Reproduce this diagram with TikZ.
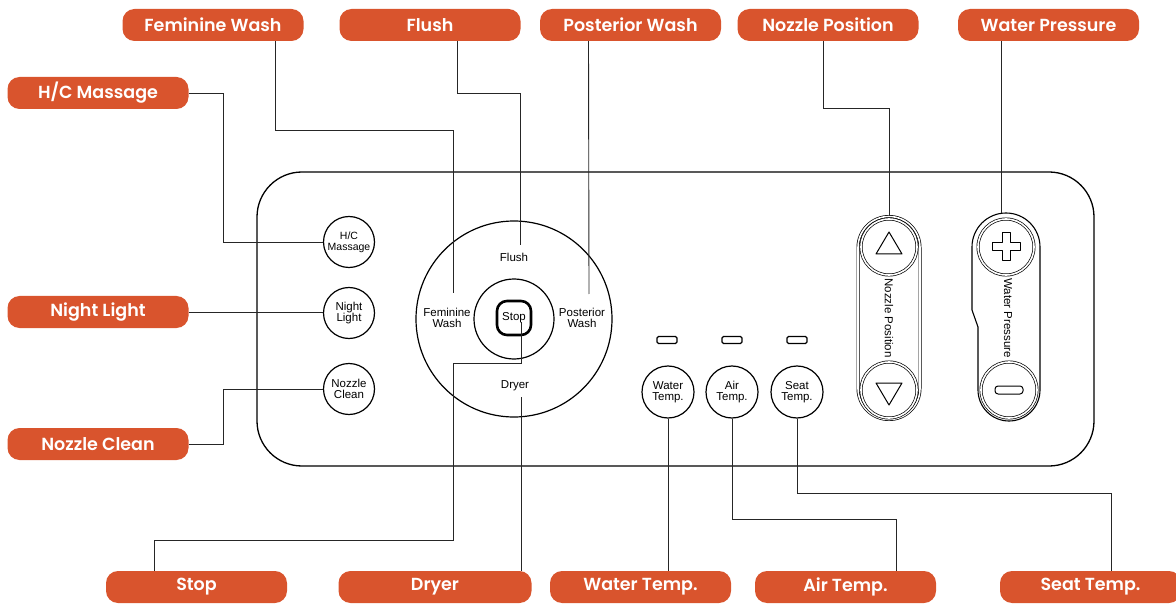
\documentclass[tikz,border=0pt]{standalone}
\usepackage{fontspec}
\setmainfont{Liberation Sans}
\newfontfamily\labelfont{Poppins}[BoldFont={Poppins SemiBold}]
\definecolor{tagorange}{RGB}{217,84,45}

\begin{document}
\begin{tikzpicture}[x=1pt, y=-1pt,
	callout/.style={rounded corners=12pt, fill=tagorange, text=white,
		minimum width=181pt, minimum height=32pt, inner sep=0pt,
		font=\labelfont\bfseries\fontsize{17.5}{17.5}\selectfont},
	lead/.style={line width=0.9pt, black!85},
	button/.style={circle, draw=black, fill=white, line width=1.2pt,
		minimum size=51pt, inner sep=0pt, align=center,
		font=\fontsize{11.5}{11.5}\selectfont},
	ring/.style={circle, draw=black, line width=0.7pt, double=white,
		double distance=1.6pt, minimum size=56pt, inner sep=0pt},
	led/.style={draw=black, rounded corners=1.5pt, line width=1.1pt,
		minimum width=20pt, minimum height=7pt, inner sep=0pt},
	dialtxt/.style={align=center, inner sep=0pt,
		font=\fontsize{11.5}{11.5}\selectfont},
	sign/.style={line width=1pt, line join=round}]

	\useasboundingbox (0,0) rectangle (1176,604);

	%% pannello
	\draw[line width=1.3pt, rounded corners=45pt] (257,172) rectangle (1094,466);

	%% tasti a sinistra
	\node[button, font=\fontsize{10.5}{11}\selectfont] (hcBtn) at (349,242) {H/C\\Massage};
	\node[button] (nightBtn) at (349,313) {Night\\Light};
	\node[button] (cleanBtn) at (349,389) {Nozzle\\Clean};

	%% manopola centrale
	\node[circle, draw, line width=1.2pt, minimum size=196pt] (dialOut) at (514,319) {};
	\node[circle, draw, line width=1.2pt, minimum size=80pt] (dialIn) at (514,319) {};
	\node[draw, rounded corners=10pt, line width=2.6pt, minimum size=34pt,
		inner sep=0pt, font=\fontsize{11.5}{11.5}\selectfont] (stopBtn) at (514,318) {Stop};
	\node[dialtxt] (flushTxt) at (514,257) {Flush};
	\node[dialtxt] (femTxt) at (447,318) {Feminine\\Wash};
	\node[dialtxt] (postTxt) at (582,318) {Posterior\\Wash};
	\node[dialtxt] (dryerTxt) at (515,386) {Dryer};
	\coordinate (femTip) at (453,293);
	\coordinate (flushTip) at (520,245);
	\coordinate (postTip) at (589,294);
	\coordinate (stopTip) at (521,322);
	\coordinate (dryerTip) at (521,397);

	%% spie e tasti temperatura
	\node[led] (ledW) at (667,340) {};
	\node[led] (ledA) at (732,340) {};
	\node[led] (ledS) at (797,340) {};
	\node[button, minimum size=52pt] (waterBtn) at (668,392) {Water\\Temp.};
	\node[button, minimum size=52pt] (airBtn) at (732,392) {Air\\Temp.};
	\node[button, minimum size=52pt] (seatBtn) at (797,392) {Seat\\Temp.};

	%% posizione ugello
	\node[draw, line width=0.7pt, double=white, double distance=1.6pt,
		rounded corners=31pt, minimum width=62pt, minimum height=203pt] (nozPill) at (889,318) {};
	\node[dialtxt, rotate=-90] (nozTxt) at (889,318) {Nozzle Position};
	\node[ring] (nozUp) at (889,247) {};
	\node[ring] (nozDown) at (889,390) {};
	\draw[sign] (nozUp) ++(-13,7) -- ++(26,0) -- ++(-13,-22) -- cycle;
	\draw[sign] (nozDown) ++(-13,-7) -- ++(26,0) -- ++(-13,22) -- cycle;

	%% pressione acqua: sagoma con lo scalino a sinistra
	\draw[line width=1.1pt] (972,310) -- (972,247) arc (180:360:34)
		-- (1040,390) arc (0:180:31) -- (978,327) -- cycle;
	\node[dialtxt, rotate=-90] (presTxt) at (1008,318) {Water Pressure};
	\node[ring] (presUp) at (1006,247) {};
	\node[ring] (presDown) at (1009,390) {};
	\draw[sign] (presUp) ++(-4,-14) -- ++(8,0) -- ++(0,10) -- ++(10,0)
		-- ++(0,8) -- ++(-10,0) -- ++(0,10) -- ++(-8,0) -- ++(0,-10)
		-- ++(-10,0) -- ++(0,-8) -- ++(10,0) -- cycle;
	\draw[sign, rounded corners=3pt] (presDown) ++(-14,-4) rectangle ++(28,8);
	\coordinate (presTop) at (1001.5,213.5);

	%% etichette
	\node[callout] (femLbl) at (213,25) {Feminine Wash};
	\node[callout] (flushLbl) at (430,25) {Flush};
	\node[callout] (postLbl) at (630.5,25) {Posterior Wash};
	\node[callout] (nozLbl) at (828,25) {Nozzle Position};
	\node[callout] (presLbl) at (1048.5,25) {Water Pressure};
	\node[callout] (hcLbl) at (98,93) {H/C Massage};
	\node[callout] (nightLbl) at (98,312) {Night Light};
	\node[callout] (cleanLbl) at (98,444) {Nozzle Clean};
	\node[callout] (stopLbl) at (196.5,587) {Stop};
	\node[callout, minimum width=193pt] (dryerLbl) at (435,587) {Dryer};
	\node[callout] (waterTLbl) at (640.5,587) {Water Temp.};
	\node[callout] (airLbl) at (845.5,587) {Air Temp.};
	\node[callout] (seatLbl) at (1090.5,587) {Seat Temp.};

	%% linee di richiamo
	\draw[lead] (hcLbl.east) -- ++(35,0) |- (hcBtn.west);
	\draw[lead] (nightLbl.east) -- (nightLbl.east -| nightBtn.west);
	\draw[lead] (cleanLbl.east) -- ++(35,0) |- (cleanBtn.west);
	\draw[lead] ([xshift=62pt]femLbl.south) -- ++(0,89) -| (femTip);
	\draw[lead] ([xshift=27pt]flushLbl.south) -- ++(0,52) -| (flushTip);
	\draw[lead] ([xshift=-42pt]postLbl.south) -- (postTip);
	\draw[lead] ([xshift=-5pt]nozLbl.south) -- ++(0,67) -| (nozPill.north);
	\draw[lead] ([xshift=-47pt]presLbl.south) -- (presTop);
	\draw[lead] (stopTip) -- ++(0,41) -- ++(-68,0) -- ++(0,177)
		-| ([xshift=-42pt]stopLbl.north);
	\draw[lead] (dryerTip) -- (dryerTip |- dryerLbl.north);
	\draw[lead] (waterBtn.south) -- (waterBtn.south |- waterTLbl.north);
	\draw[lead] (airBtn.south) -- ++(0,101) -| ([xshift=51pt]airLbl.north);
	\draw[lead] (seatBtn.south) -- ++(0,75) -| ([xshift=21pt]seatLbl.north);

\end{tikzpicture}
\end{document}
